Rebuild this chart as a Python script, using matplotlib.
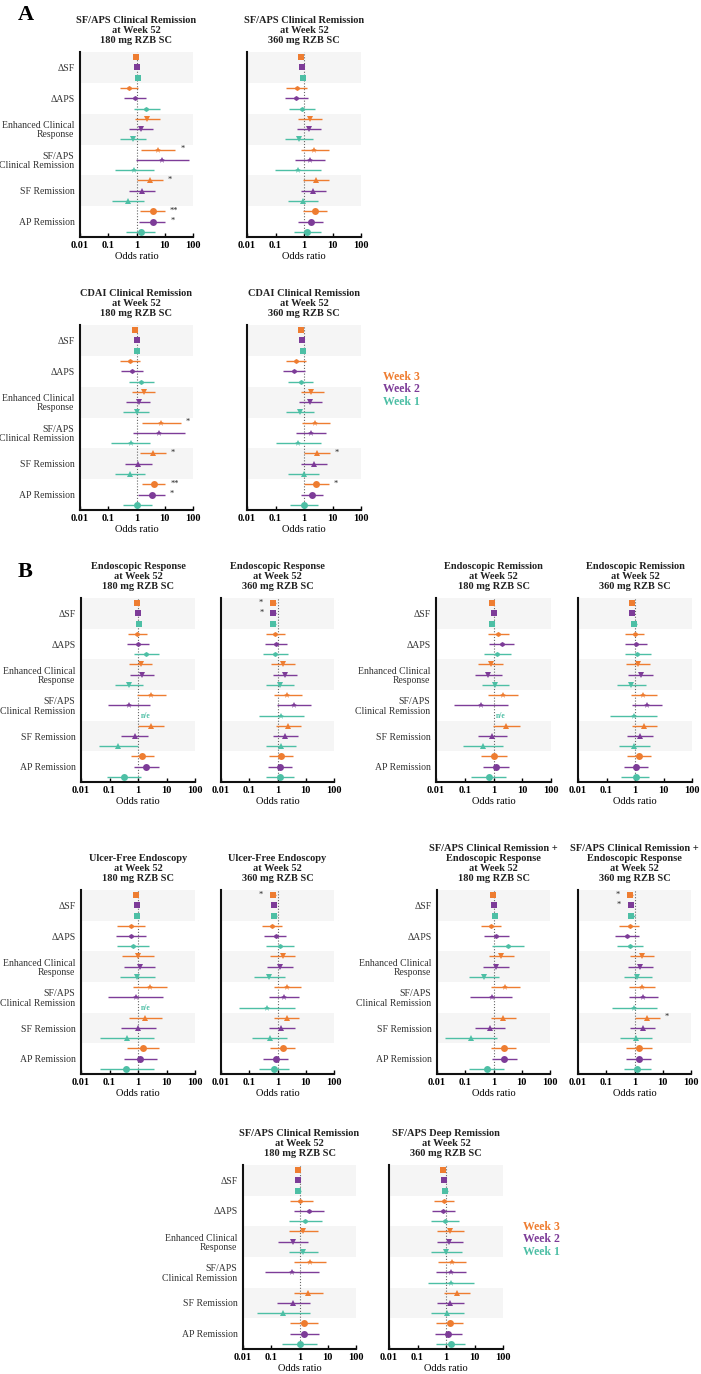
import numpy as np
import matplotlib
matplotlib.use('Agg')
import matplotlib.pyplot as plt
from matplotlib.ticker import LogLocator, NullFormatter, FixedLocator, FixedFormatter

plt.rcParams['font.family'] = ['Liberation Serif', 'DejaVu Serif']

# ---------------- data ----------------
categories = ['ΔSF', 'ΔAPS', 'Enhanced Clinical\nResponse', 'SF/APS\nClinical Remission',
              'SF Remission', 'AP Remission']
weeks = ['Week 3', 'Week 2', 'Week 1']
x_ticks = [0.01, 0.1, 1, 10, 100]
x_tick_labels = ['0.01', '0.1', '1', '10', '100']
nan = np.nan

# order: for each category -> Week 3, Week 2, Week 1
A1_or = [0.95, 1.0, 1.1,   0.55, 0.87, 2.25,  2.45, 1.42, 0.76,  5.7, 8.0, 0.83,   3.0, 1.6, 0.49,   3.9, 3.8, 1.42]
A1_lo = [0.88, 0.92, 0.98, 0.26, 0.37, 0.8,   0.92, 0.54, 0.27,  1.5, 0.95, 0.17,  1.05, 0.55, 0.14, 1.38, 1.24, 0.42]
A1_hi = [1.02, 1.08, 1.22, 1.15, 2.1, 6.8,    6.6, 3.7, 2.2,     23.8, 72, 4.0,    8.7, 4.7, 1.8,    10.3, 10.6, 4.7]

A2_or = [0.8, 0.85, 0.92,  0.55, 0.52, 0.83,  1.67, 1.54, 0.65,  2.3, 1.67, 0.6,   2.6, 2.1, 0.92,   2.4, 1.7, 1.24]
A2_lo = [0.72, 0.76, 0.75, 0.24, 0.22, 0.3,   0.63, 0.57, 0.22,  0.8, 0.47, 0.095, 0.92, 0.76, 0.27, 0.92, 0.63, 0.44]
A2_hi = [0.9, 0.95, 1.12,  1.24, 1.35, 2.4,   4.3, 4.1, 2.0,     7.6, 5.6, 3.8,    7.4, 6.0, 3.2,    6.6, 4.6, 3.9]

A3_or = [0.92, 1.0, 1.08,  0.58, 0.68, 1.5,   1.77, 1.18, 1.0,   7.6, 6.1, 0.63,   3.9, 1.15, 0.57,  4.1, 3.5, 1.03]
A3_lo = [0.85, 0.92, 0.96, 0.27, 0.28, 0.55,  0.72, 0.44, 0.34,  1.58, 0.74, 0.13, 1.3, 0.4, 0.17,   1.54, 1.15, 0.32]
A3_hi = [1.0, 1.08, 1.2,   1.3, 1.7, 4.1,     4.7, 3.0, 2.8,     36.7, 53.6, 3.0,  10.8, 3.4, 1.97,  10.6, 10.0, 3.5]

A4_or = [0.8, 0.83, 0.95,  0.52, 0.46, 0.78,  1.8, 1.6, 0.7,     2.5, 1.7, 0.61,   2.9, 2.25, 0.97,  2.7, 1.9, 0.97]
A4_lo = [0.72, 0.75, 0.8,  0.24, 0.18, 0.28,  0.76, 0.65, 0.24,  0.83, 0.51, 0.1,  1.0, 0.8, 0.28,   1.03, 0.76, 0.33]
A4_hi = [0.9, 0.93, 1.12,  1.15, 1.1, 2.1,    4.9, 4.4, 2.2,     8.0, 6.0, 3.9,    8.0, 6.5, 3.4,    7.4, 4.8, 3.0]

B1_or = [0.92, 1.03, 1.05, 0.92, 1.0, 1.9,    1.24, 1.42, 0.49,  2.9, 0.48, nan,   2.9, 0.76, 0.2,   1.38, 1.9, 0.32]
B1_lo = [0.85, 0.95, 0.95, 0.43, 0.42, 0.72,  0.48, 0.54, 0.16,  0.92, 0.088, nan, 1.03, 0.26, 0.044, 0.55, 0.72, 0.083]
B1_hi = [1.0, 1.1, 1.17,   2.0, 2.4, 5.5,     3.2, 3.7, 1.54,    9.5, 2.65, nan,   8.1, 2.25, 1.0,   3.7, 5.4, 1.24]

B2_or = [0.67, 0.72, 0.72, 0.83, 0.85, 0.83,  1.54, 1.86, 1.18,  2.25, 3.7, 1.35,  2.45, 1.9, 1.35,  1.35, 1.24, 1.24]
B2_lo = [0.55, 0.6, 0.6,   0.38, 0.36, 0.3,   0.58, 0.67, 0.4,   0.74, 0.95, 0.22, 0.9, 0.72, 0.4,   0.52, 0.47, 0.4]
B2_hi = [0.85, 0.87, 0.9,  1.77, 2.1, 2.4,    4.0, 5.1, 3.7,     7.2, 15.4, 8.7,   6.8, 5.5, 4.6,    3.5, 3.2, 3.7]

B3_or = [0.9, 1.0, 0.92,   1.42, 1.9, 1.34,   0.81, 0.65, 1.17,  2.17, 0.37, nan,  2.7, 0.92, 0.42,  1.03, 1.2, 0.7]
B3_lo = [0.82, 0.9, 0.82,  0.62, 0.69, 0.45,  0.29, 0.22, 0.4,   0.67, 0.042, nan, 0.97, 0.29, 0.088, 0.36, 0.44, 0.17]
B3_hi = [0.98, 1.1, 1.04,  3.5, 5.3, 4.2,     2.2, 1.95, 3.6,    7.2, 3.25, nan,   8.1, 3.0, 2.1,    2.85, 3.6, 2.8]

B4_or = [0.76, 0.8, 0.9,   0.97, 1.1, 1.2,    1.24, 1.58, 0.74,  1.97, 2.6, 0.9,   2.08, 1.54, 0.95, 1.35, 1.1, 1.05]
B4_lo = [0.66, 0.68, 0.7,  0.43, 0.43, 0.43,  0.48, 0.58, 0.24,  0.7, 0.76, 0.13,  0.76, 0.54, 0.27, 0.51, 0.41, 0.33]
B4_hi = [0.86, 0.92, 1.15, 2.1, 2.7, 3.6,     3.4, 4.3, 2.4,     6.1, 9.0, 5.8,    5.8, 4.3, 3.3,    3.7, 2.95, 3.1]

B5_or = [0.85, 0.92, 0.92, 0.58, 0.55, 0.68,  1.0, 1.15, 0.92,   2.6, 0.83, nan,   1.8, 1.0, 0.41,   1.5, 1.2, 0.38]
B5_lo = [0.7, 0.8, 0.8,    0.19, 0.17, 0.19,  0.28, 0.32, 0.23,  0.67, 0.092, nan, 0.48, 0.25, 0.047, 0.42, 0.32, 0.047]
B5_hi = [1.02, 1.08, 1.12, 1.72, 1.86, 2.5,   3.6, 4.1, 4.0,     10.6, 7.6, nan,   6.8, 4.3, 3.6,    5.4, 4.7, 3.6]

B6_or = [0.67, 0.76, 0.78, 0.63, 0.85, 1.18,  1.54, 1.24, 0.52,  2.25, 1.72, 0.41, 2.1, 1.38, 0.54,  1.58, 0.85, 0.78]
B6_lo = [0.55, 0.64, 0.64, 0.28, 0.32, 0.38,  0.55, 0.44, 0.15,  0.76, 0.5, 0.045, 0.76, 0.5, 0.13,  0.55, 0.3, 0.23]
B6_hi = [0.85, 0.9, 0.95,  1.5, 2.0, 3.7,     4.2, 3.5, 1.86,    7.0, 5.7, 4.0,    5.7, 4.1, 2.25,   4.3, 2.45, 2.65]

B7_or = [0.97, 1.03, 1.1,  0.8, 1.27, 3.3,    1.8, 1.2, 0.47,    2.6, 0.85, nan,   2.1, 0.76, 0.16,  2.3, 2.4, 0.57]
B7_lo = [0.88, 0.94, 0.95, 0.36, 0.47, 0.92,  0.67, 0.44, 0.14,  0.8, 0.15, nan,   0.8, 0.23, 0.019, 0.83, 0.85, 0.14]
B7_hi = [1.06, 1.12, 1.28, 1.9, 3.45, 11.9,   5.2, 3.4, 1.58,    8.7, 4.7, nan,    6.3, 2.5, 1.3,    6.3, 6.8, 2.3]

B8_or = [0.67, 0.74, 0.78, 0.67, 0.54, 0.7,   1.86, 1.63, 1.2,   1.8, 2.0, 0.97,   2.8, 1.97, 1.1,   1.46, 1.42, 1.24]
B8_lo = [0.55, 0.6, 0.6,   0.28, 0.21, 0.24,  0.67, 0.58, 0.43,  0.63, 0.63, 0.16, 1.0, 0.67, 0.31,  0.52, 0.52, 0.41]
B8_hi = [0.85, 0.9, 1.0,   1.42, 1.42, 2.08,  5.1, 4.4, 4.0,     5.2, 7.0, 6.1,    8.0, 5.4, 4.0,    4.0, 3.9, 3.9]

B9_or = [0.87, 0.92, 0.9,  1.08, 2.2, 1.6,    1.35, 0.6, 1.38,   2.4, 0.53, nan,   1.97, 0.61, 0.26, 1.46, 1.5, 1.0]
B9_lo = [0.78, 0.82, 0.75, 0.45, 0.66, 0.42,  0.42, 0.18, 0.41,  0.66, 0.062, nan, 0.64, 0.16, 0.032, 0.48, 0.47, 0.25]
B9_hi = [0.97, 1.02, 1.1,  3.0, 7.5, 6.2,     4.4, 2.0, 4.7,     8.6, 5.0, nan,    6.7, 2.4, 2.3,    4.6, 5.0, 4.2]

B10_or = [0.8, 0.83, 0.95, 0.87, 0.8, 0.92,   1.42, 1.28, 1.0,   1.67, 1.5, 1.5,   2.4, 1.42, 1.1,   1.35, 1.18, 1.46]
B10_lo = [0.7, 0.73, 0.75, 0.39, 0.31, 0.29,  0.5, 0.47, 0.3,    0.53, 0.44, 0.24, 0.85, 0.49, 0.3,  0.45, 0.42, 0.45]
B10_hi = [0.9, 0.93, 1.2,  1.97, 2.1, 2.9,    4.2, 3.9, 3.5,     5.1, 5.2, 9.5,    7.1, 4.3, 4.3,    3.9, 3.5, 4.7]

# significance marks: (row index, text, side)
A1_sig = [(9, '*', 'r'), (12, '*', 'r'), (15, '**', 'r'), (16, '*', 'r')]
A3_sig = [(9, '*', 'r'), (12, '*', 'r'), (15, '**', 'r'), (16, '*', 'r')]
A4_sig = [(12, '*', 'r'), (15, '*', 'r')]
B2_sig = [(0, '*', 'l'), (1, '*', 'l')]
B6_sig = [(0, '*', 'l')]
B8_sig = [(0, '*', 'l'), (1, '*', 'l'), (12, '*', 'r')]

# ---------------- style ----------------
W, H = 701, 1374
fig = plt.figure(figsize=(W / 100, H / 100), dpi=100)

week_colors = ['#EE7D31', '#7D3C98', '#4DBFA5']
markers = ['s', 'h', 'v', '*', '^', 'o']
msizes = [4.2, 3.6, 4.4, 4.8, 4.4, 5.0]
band_color = '#f5f5f5'

panels = [
    (A1_or, A1_lo, A1_hi, 'SF/APS Clinical Remission\nat Week 52\n180 mg RZB SC', (80, 52, 193, 237), A1_sig, False, True),
    (A2_or, A2_lo, A2_hi, 'SF/APS Clinical Remission\nat Week 52\n360 mg RZB SC', (247, 52, 361, 237), [], False, False),
    (A3_or, A3_lo, A3_hi, 'CDAI Clinical Remission\nat Week 52\n180 mg RZB SC', (80, 325, 193, 510), A3_sig, False, True),
    (A4_or, A4_lo, A4_hi, 'CDAI Clinical Remission\nat Week 52\n360 mg RZB SC', (247, 325, 361, 510), A4_sig, False, False),
    (B1_or, B1_lo, B1_hi, 'Endoscopic Response\nat Week 52\n180 mg RZB SC', (81, 598, 195, 782), [], True, True),
    (B2_or, B2_lo, B2_hi, 'Endoscopic Response\nat Week 52\n360 mg RZB SC', (221, 598, 334, 782), B2_sig, False, False),
    (B3_or, B3_lo, B3_hi, 'Endoscopic Remission\nat Week 52\n180 mg RZB SC', (436, 598, 551, 782), [], True, True),
    (B4_or, B4_lo, B4_hi, 'Endoscopic Remission\nat Week 52\n360 mg RZB SC', (578, 598, 692, 782), [], False, False),
    (B5_or, B5_lo, B5_hi, 'Ulcer-Free Endoscopy\nat Week 52\n180 mg RZB SC', (81, 890, 195, 1074), [], True, True),
    (B6_or, B6_lo, B6_hi, 'Ulcer-Free Endoscopy\nat Week 52\n360 mg RZB SC', (221, 890, 334, 1074), B6_sig, False, False),
    (B7_or, B7_lo, B7_hi, 'SF/APS Clinical Remission +\nEndoscopic Response\nat Week 52\n180 mg RZB SC', (437, 890, 550, 1074), [], False, True),
    (B8_or, B8_lo, B8_hi, 'SF/APS Clinical Remission +\nEndoscopic Response\nat Week 52\n360 mg RZB SC', (578, 890, 691, 1074), B8_sig, False, False),
    (B9_or, B9_lo, B9_hi, 'SF/APS Clinical Remission\nat Week 52\n180 mg RZB SC', (243, 1165, 356, 1349), [], False, True),
    (B10_or, B10_lo, B10_hi, 'SF/APS Deep Remission\nat Week 52\n360 mg RZB SC', (389, 1165, 503, 1349), [], False, False),
]

for ors, los, his, title, box, sig, ne, show_y in panels:
    l, t, r, b = box
    ax = fig.add_axes([l / W, 1 - b / H, (r - l) / W, (b - t) / H])
    ax.set_xscale('log')
    ax.set_xlim(0.01, 100)
    ax.set_ylim(18, 0)
    for c in range(0, 6, 2):
        ax.axhspan(c * 3, c * 3 + 3, color=band_color, lw=0, zorder=0)
    ax.axvline(1, color='#666666', ls=(0, (1, 1.6)), lw=0.8, zorder=1)
    ors = np.array(ors, float); los = np.array(los, float); his = np.array(his, float)
    for i in range(18):
        cat, wk = divmod(i, 3)
        y = i + 0.5
        col = week_colors[wk]
        if np.isnan(ors[i]):
            if ne:
                ax.text(1.8, y, 'n/e', color=col, fontsize=5.5, ha='center', va='center',
                        fontweight='bold')
            continue
        ax.errorbar([ors[i]], [y], xerr=[[ors[i] - los[i]], [his[i] - ors[i]]],
                    fmt=markers[cat], color=col, ms=msizes[cat], mew=0,
                    elinewidth=1.0, capsize=2.0, capthick=1.0, zorder=3)
    for idx, txt, side in sig:
        y = idx + 0.5
        if side == 'r':
            ax.annotate(txt, (his[idx], y), xytext=(3.5, 0.5), textcoords='offset points',
                        ha='left', va='center', fontsize=6, color='#222222')
        else:
            ax.annotate(txt, (los[idx], y), xytext=(-5, 0.5), textcoords='offset points',
                        ha='right', va='center', fontsize=6, color='#222222')
    ax.set_yticks([c * 3 + 1.5 for c in range(6)])
    if show_y:
        ax.set_yticklabels(categories, fontsize=7, color='#333333', linespacing=1.05)
    else:
        ax.set_yticklabels([])
    ax.tick_params(axis='y', length=0, pad=4)
    ax.xaxis.set_major_locator(FixedLocator(x_ticks))
    ax.xaxis.set_major_formatter(FixedFormatter(x_tick_labels))
    ax.xaxis.set_minor_locator(LogLocator(base=10, subs=np.arange(2, 10)))
    ax.xaxis.set_minor_formatter(NullFormatter())
    ax.tick_params(axis='x', which='major', direction='in', length=3, width=1, labelsize=7.5, pad=3)
    ax.tick_params(axis='x', which='minor', direction='in', length=1.8, width=0.7)
    for lab in ax.get_xticklabels():
        lab.set_fontweight('bold')
    ax.set_xlabel('Odds ratio', fontsize=7.5, labelpad=1.5)
    for s in ['top', 'right']:
        ax.spines[s].set_visible(False)
    for s in ['left', 'bottom']:
        ax.spines[s].set_linewidth(1.5)
        ax.spines[s].set_color('#111111')
    ax.annotate(title, (0.5, 1), xycoords='axes fraction', xytext=(0, 5),
                textcoords='offset points', ha='center', va='bottom',
                fontsize=7.5, fontweight='bold', linespacing=1.15, color='#222222')

# legends
for (x0, y0) in [(383, 377), (523, 1227)]:
    for k, w in enumerate(weeks):
        fig.text(x0 / W, 1 - (y0 + k * 12.5) / H, w, color=week_colors[k], fontsize=8.5,
                 fontweight='bold', ha='left', va='center')

fig.text(18 / W, 1 - 5 / H, 'A', fontsize=16, fontweight='bold', va='top', ha='left')
fig.text(18 / W, 1 - 562 / H, 'B', fontsize=16, fontweight='bold', va='top', ha='left')

fig.savefig('out.png', dpi=100, facecolor='white')
